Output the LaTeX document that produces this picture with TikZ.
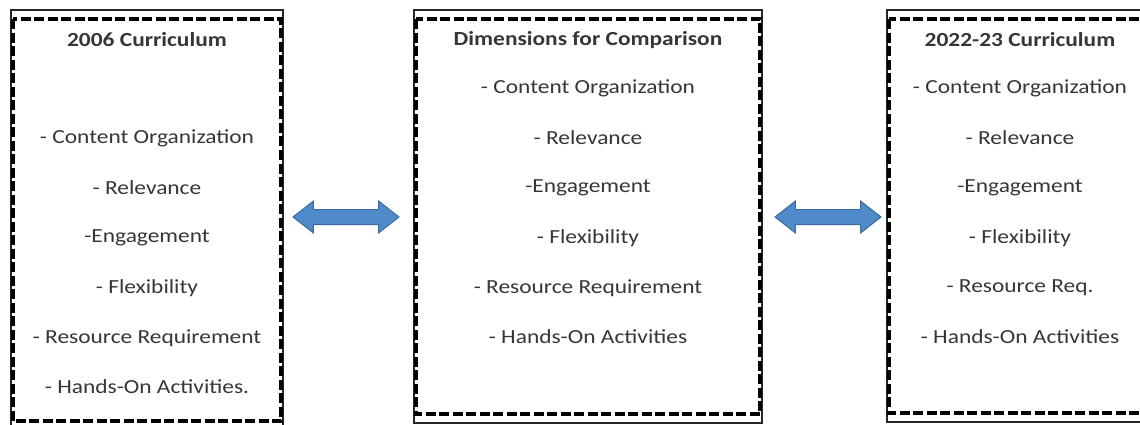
\documentclass[tikz,border=0pt]{standalone}
\usepackage{fontspec}
\setmainfont{Carlito}
\usetikzlibrary{shapes.arrows}
\definecolor{txt}{HTML}{363636}
\definecolor{arrfill}{HTML}{4F8BCB}
\definecolor{arrline}{HTML}{3A6A9E}
\newcommand{\tx}[1]{\scalebox{1.17}[1]{#1}}
\tikzset{
  outerbox/.style={draw=black!85, line width=1.8pt, rectangle, inner sep=0pt},
  dashbox/.style={draw=black, line width=4pt, dash pattern=on 10pt off 3.5pt},
  item/.style={text=txt, font=\fontsize{20}{24}\selectfont, inner sep=0pt, anchor=center},
  title/.style={item, font=\fontsize{20}{24}\selectfont\bfseries},
  dblarrow/.style={double arrow, draw=arrline, fill=arrfill, line width=1pt,
    minimum height=106pt, inner xsep=0pt, inner ysep=7pt, double arrow head extend=8.5pt,
    double arrow tip angle=76, double arrow head indent=0pt}
}
\begin{document}
\begin{tikzpicture}[x=1pt,y=-1pt]
\useasboundingbox (0,0) rectangle (1140,425);
\clip (0,0) rectangle (1140,425);
% boxes
\node[outerbox, minimum width=272pt, minimum height=420pt] (L) at (147,220) {};
\node[outerbox, minimum width=348pt, minimum height=413pt] (M) at (588,216.5) {};
\node[outerbox, minimum width=268pt, minimum height=412pt] (R) at (1021,216) {};
\draw[dashbox] ([xshift=2.5pt,yshift=-10pt]L.north west) rectangle ([xshift=-2.5pt,yshift=10pt]L.south east);
\draw[dashbox] ([xshift=2.5pt,yshift=-10pt]M.north west) rectangle ([xshift=-2.5pt,yshift=10pt]M.south east);
\draw[dashbox] ([xshift=2.5pt,yshift=-10pt]R.north west) rectangle ([xshift=-2.5pt,yshift=10pt]R.south east);
% left text
\node[title] (lt) at (147,40) {\tx{2006 Curriculum}};
\node[item] (l1) at (147,138) {\tx{- Content Organization}};
\node[item] (l2) at (147,188) {\tx{- Relevance}};
\node[item] (l3) at (147,238) {\tx{-Engagement}};
\node[item] (l4) at (147,288) {\tx{- Flexibility}};
\node[item] (l5) at (147,338) {\tx{- Resource Requirement}};
\node[item] (l6) at (147,387) {\tx{- Hands-On Activities.}};
% middle text
\node[title] (mt) at (588,40) {\tx{Dimensions for Comparison}};
\node[item] (m1) at (588,88) {\tx{- Content Organization}};
\node[item] (m2) at (588,138) {\tx{- Relevance}};
\node[item] (m3) at (588,188) {\tx{-Engagement}};
\node[item] (m4) at (588,238) {\tx{- Flexibility}};
\node[item] (m5) at (588,288) {\tx{- Resource Requirement}};
\node[item] (m6) at (588,337) {\tx{- Hands-On Activities}};
% right text
\node[title] (rt) at (1020,40) {\tx{2022-23 Curriculum}};
\node[item] (r1) at (1020,88) {\tx{- Content Organization}};
\node[item] (r2) at (1020,138) {\tx{- Relevance}};
\node[item] (r3) at (1020,188) {\tx{-Engagement}};
\node[item] (r4) at (1020,238) {\tx{- Flexibility}};
\node[item] (r5) at (1020,288) {\tx{- Resource Req.}};
\node[item] (r6) at (1020,337) {\tx{- Hands-On Activities}};
% arrows
\node[dblarrow] (a1) at (346,217) {};
\node[dblarrow] (a2) at (828,217) {};
\end{tikzpicture}
\end{document}
